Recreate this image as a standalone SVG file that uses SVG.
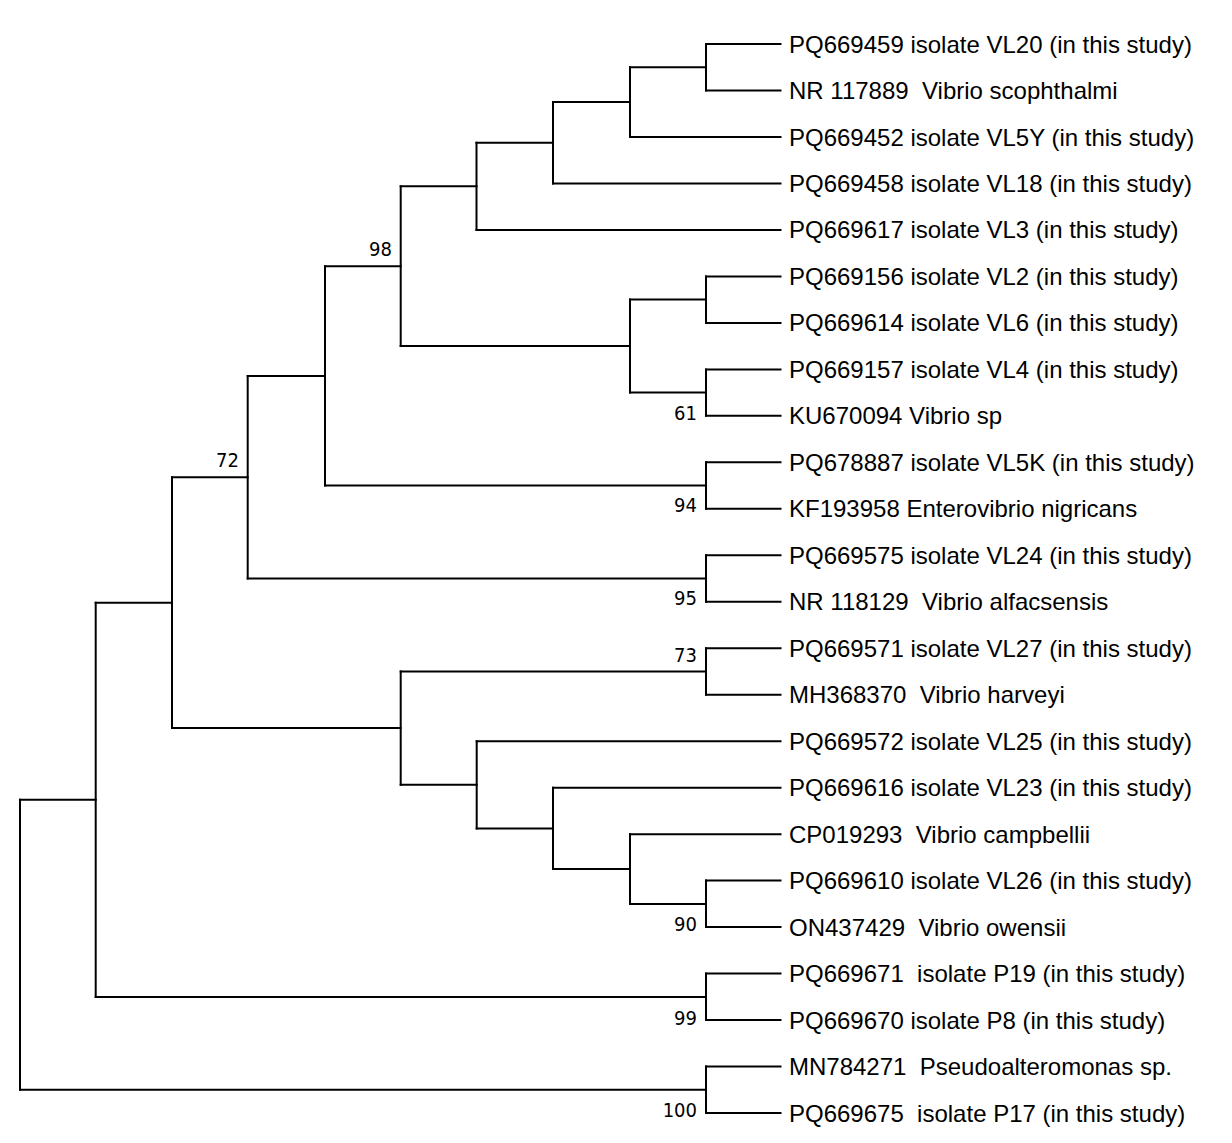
<svg xmlns="http://www.w3.org/2000/svg" width="1232" height="1143" viewBox="0 0 1232 1143">
<style>
.e{fill:none;stroke:#000;stroke-width:2;stroke-linecap:square}
.t{font-family:"Liberation Sans",Arial,sans-serif;font-size:24px;fill:#000}
.b{font-family:"DejaVu Sans Condensed","DejaVu Sans",sans-serif;font-size:20px;fill:#000;text-anchor:end}
</style>
<rect width="1232" height="1143" fill="#fff"/>
<g id="connectors">
<path class="e" d="M706 44V90.5 M630 67.3V137 M553 102.1V183.4 M476.5 142.8V229.9 M706 276.4V322.9 M706 369.4V415.8 M630 299.6V392.6 M400.7 186.3V346.1 M706 462.3V508.8 M325 266.2V485.5 M706 555.3V601.8 M247.7 375.9V578.5 M706 648.2V694.7 M706 880.6V927.1 M630 834.2V903.9 M553 787.7V869 M476.7 741.2V828.4 M400.7 671.5V784.8 M172 477.2V728.1 M706 973.6V1020.1 M95.7 602.7V996.9 M706 1066.6V1113 M20 799.8V1089.8"/>
<path class="e" d="M706 44H780.5 M706 90.5H780.5 M630 67.3H706 M630 137H780.5 M553 102.1H630 M553 183.4H780.5 M476.5 142.8H553 M476.5 229.9H780.5 M400.7 186.3H476.5"/>
<path class="e" d="M706 276.4H780.5 M706 322.9H780.5 M706 369.4H780.5 M706 415.8H780.5 M630 299.6H706 M630 392.6H706 M400.7 346.1H630 M325 266.2H400.7"/>
<path class="e" d="M706 462.3H780.5 M706 508.8H780.5 M325 485.5H706 M247.7 375.9H325 M706 555.3H780.5 M706 601.8H780.5 M247.7 578.5H706 M172 477.2H247.7"/>
<path class="e" d="M706 648.2H780.5 M706 694.7H780.5 M400.7 671.5H706 M476.7 741.2H780.5 M553 787.7H780.5 M630 834.2H780.5 M706 880.6H780.5 M706 927.1H780.5 M630 903.9H706 M553 869H630 M476.7 828.4H553 M400.7 784.8H476.7 M172 728.1H400.7 M95.7 602.7H172"/>
<path class="e" d="M706 973.6H780.5 M706 1020.1H780.5 M95.7 996.9H706 M20 799.8H95.7 M706 1066.6H780.5 M706 1113H780.5 M20 1089.8H706"/>
</g>
<g id="bootstrap">
<g id="n98"><text class="b" x="392" y="256">98</text></g>
<g id="n61"><text class="b" x="697" y="420">61</text></g>
<g id="n94"><text class="b" x="697" y="512">94</text></g>
<g id="n72"><text class="b" x="239" y="467">72</text></g>
<g id="n95"><text class="b" x="697" y="605">95</text></g>
<g id="n73"><text class="b" x="697" y="662">73</text></g>
<g id="n90"><text class="b" x="697" y="931">90</text></g>
<g id="n99"><text class="b" x="697" y="1025">99</text></g>
<g id="n100"><text class="b" x="697" y="1117">100</text></g>
</g>
<g id="leaves">
<g id="leaf1"><text class="t" x="789" y="52.5">PQ669459 isolate VL20 (in this study)</text></g>
<g id="leaf2"><text class="t" x="789" y="99" xml:space="preserve">NR 117889  Vibrio scophthalmi</text></g>
<g id="leaf3"><text class="t" x="789" y="145.5">PQ669452 isolate VL5Y (in this study)</text></g>
<g id="leaf4"><text class="t" x="789" y="191.9">PQ669458 isolate VL18 (in this study)</text></g>
<g id="leaf5"><text class="t" x="789" y="238.4">PQ669617 isolate VL3 (in this study)</text></g>
<g id="leaf6"><text class="t" x="789" y="284.9">PQ669156 isolate VL2 (in this study)</text></g>
<g id="leaf7"><text class="t" x="789" y="331.4">PQ669614 isolate VL6 (in this study)</text></g>
<g id="leaf8"><text class="t" x="789" y="377.9">PQ669157 isolate VL4 (in this study)</text></g>
<g id="leaf9"><text class="t" x="789" y="424.3">KU670094 Vibrio sp</text></g>
<g id="leaf10"><text class="t" x="789" y="470.8">PQ678887 isolate VL5K (in this study)</text></g>
<g id="leaf11"><text class="t" x="789" y="517.3">KF193958 Enterovibrio nigricans</text></g>
<g id="leaf12"><text class="t" x="789" y="563.8">PQ669575 isolate VL24 (in this study)</text></g>
<g id="leaf13"><text class="t" x="789" y="610.3" xml:space="preserve">NR 118129  Vibrio alfacsensis</text></g>
<g id="leaf14"><text class="t" x="789" y="656.7">PQ669571 isolate VL27 (in this study)</text></g>
<g id="leaf15"><text class="t" x="789" y="703.2" xml:space="preserve">MH368370  Vibrio harveyi</text></g>
<g id="leaf16"><text class="t" x="789" y="749.7">PQ669572 isolate VL25 (in this study)</text></g>
<g id="leaf17"><text class="t" x="789" y="796.2">PQ669616 isolate VL23 (in this study)</text></g>
<g id="leaf18"><text class="t" x="789" y="842.7" xml:space="preserve">CP019293  Vibrio campbellii</text></g>
<g id="leaf19"><text class="t" x="789" y="889.1">PQ669610 isolate VL26 (in this study)</text></g>
<g id="leaf20"><text class="t" x="789" y="935.6" xml:space="preserve">ON437429  Vibrio owensii</text></g>
<g id="leaf21"><text class="t" x="789" y="982.1" xml:space="preserve">PQ669671  isolate P19 (in this study)</text></g>
<g id="leaf22"><text class="t" x="789" y="1028.6">PQ669670 isolate P8 (in this study)</text></g>
<g id="leaf23"><text class="t" x="789" y="1075.1" xml:space="preserve">MN784271  Pseudoalteromonas sp.</text></g>
<g id="leaf24"><text class="t" x="789" y="1121.5" xml:space="preserve">PQ669675  isolate P17 (in this study)</text></g>
</g>
</svg>
